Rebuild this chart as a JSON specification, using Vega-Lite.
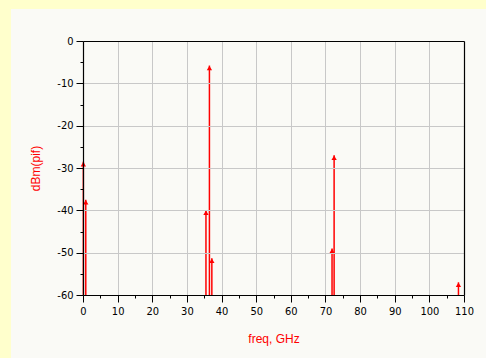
{
  "$schema": "https://vega.github.io/schema/vega-lite/v6.json",
  "width": 381,
  "height": 254,
  "autosize": {"type": "none"},
  "padding": {"left": 83, "top": 41, "right": 22, "bottom": 63},
  "background": "#FFFFCC",
  "config": {
    "view": {"stroke": "#222222", "strokeWidth": 1},
    "axis": {
      "domainColor": "#000000",
      "domainWidth": 1.2,
      "tickColor": "#000000",
      "tickWidth": 1,
      "gridColor": "#C8C8C8",
      "gridWidth": 1,
      "labelFont": "Liberation Sans Narrow, Arial Narrow, DejaVu Sans Condensed, sans-serif",
      "labelFontSize": 11,
      "labelColor": "#000000",
      "titleFont": "Liberation Sans, Arial, sans-serif",
      "titleFontSize": 12,
      "titleFontWeight": "normal",
      "titleColor": "#FF0000"
    }
  },
  "datasets": {
    "spurs": [
      {"freq": 0.1, "dbm": -28.5},
      {"freq": 0.8, "dbm": -37.5},
      {"freq": 35.5, "dbm": -40.0},
      {"freq": 36.5, "dbm": -5.8},
      {"freq": 37.2, "dbm": -51.3},
      {"freq": 71.9, "dbm": -49.0},
      {"freq": 72.5, "dbm": -27.0},
      {"freq": 108.4, "dbm": -57.0}
    ],
    "panel": [{"part": "panel"}]
  },
  "resolve": {"axis": {"x": "independent", "y": "independent"}},
  "layer": [
    {
      "data": {"name": "panel"},
      "mark": {"type": "rect", "fill": "#FAFAF6", "clip": false},
      "encoding": {
        "x": {
          "datum": -20.8,
          "type": "quantitative",
          "axis": {"orient": "top", "zindex": 2, "title": null, "labels": false, "ticks": false, "grid": false, "domain": true}
        },
        "x2": {"datum": 116.4},
        "y": {
          "datum": 7.56,
          "type": "quantitative",
          "axis": {"orient": "right", "zindex": 2, "title": null, "labels": false, "ticks": false, "grid": false, "domain": true}
        },
        "y2": {"datum": -74.9}
      }
    },
    {
      "data": {"name": "spurs"},
      "mark": {"type": "rule", "color": "#FF0000", "strokeWidth": 1.5},
      "encoding": {
        "x": {
          "field": "freq",
          "type": "quantitative",
          "scale": {"domain": [0, 110], "nice": false, "zero": false},
          "axis": {
            "orient": "bottom",
            "zindex": 1,
            "title": "freq, GHz",
            "values": [0,10,20,30,40,50,60,70,80,90,100,110],
            "labelExpr": "'' + datum.value",
            "tickSize": 7,
            "grid": true,
            "labelPadding": 3,
            "titlePadding": 17,
            "labelFlush": false,
            "labelOverlap": false
          }
        },
        "y": {
          "field": "dbm",
          "type": "quantitative",
          "scale": {"domain": [-60, 0], "nice": false, "zero": false},
          "axis": {
            "orient": "left",
            "zindex": 1,
            "title": "dBm(pif)",
            "values": [0,-10,-20,-30,-40,-50,-60],
            "labelExpr": "'' + datum.value",
            "tickSize": 7,
            "grid": true,
            "labelPadding": 3,
            "titlePadding": 14,
            "labelFlush": false,
            "labelOverlap": false
          }
        },
        "y2": {"datum": -60}
      }
    },
    {
      "data": {"name": "spurs"},
      "mark": {"type": "point", "shape": "triangle-up", "filled": true, "color": "#FF0000", "size": 28, "opacity": 1, "yOffset": 2.5},
      "encoding": {
        "x": {
          "field": "freq",
          "type": "quantitative",
          "axis": {
            "orient": "bottom",
            "zindex": 1,
            "title": null,
            "values": [5,15,25,35,45,55,65,75,85,95,105],
            "tickSize": 3,
            "labels": false,
            "domain": false,
            "grid": false
          }
        },
        "y": {
          "field": "dbm",
          "type": "quantitative",
          "axis": {
            "orient": "left",
            "zindex": 1,
            "title": null,
            "values": [-5,-15,-25,-35,-45,-55],
            "tickSize": 3,
            "labels": false,
            "domain": false,
            "grid": false
          }
        }
      }
    }
  ]
}
